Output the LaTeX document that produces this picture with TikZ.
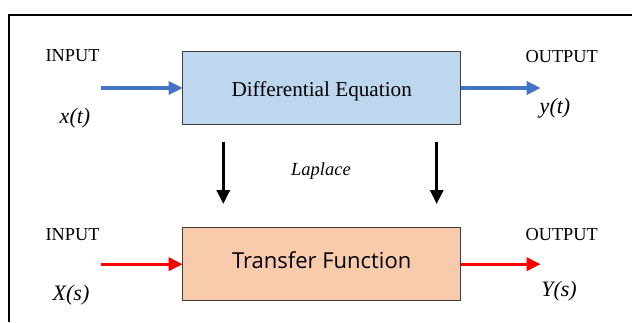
\documentclass[tikz,border=0pt]{standalone}
\usepackage{fontspec}
\setmainfont{Liberation Serif}
\newfontfamily\tffont{Open Sans}
\usetikzlibrary{arrows.meta}
\definecolor{boxblue}{HTML}{BDD7EE}
\definecolor{boxpeach}{HTML}{F8CBAD}
\definecolor{arrblue}{HTML}{4472C4}
\definecolor{arrred}{HTML}{FF0000}
\definecolor{boxedge}{HTML}{404040}
\tikzset{
  lbl/.style={inner sep=0pt, outer sep=0pt, anchor=base, font=\fontsize{18.3}{18}\selectfont},
  sig/.style={inner sep=0pt, outer sep=0pt, anchor=base, font=\fontsize{22}{22}\selectfont\itshape},
  block/.style={draw=boxedge, line width=1pt, inner sep=0pt, outer sep=0pt,
    minimum width=278pt, minimum height=72.6pt, text depth=0pt},
  flow/.style={line width=3.4pt, -{Triangle[length=14pt,width=13pt]}},
}
\begin{document}
\begin{tikzpicture}[x=1pt,y=-1pt]
\useasboundingbox (0,0) rectangle (632,322);
% frame
\draw[line width=2pt] (632,15) -- (9,15) -- (9,322);
% blocks
\node[block, fill=boxblue, text height=16pt, font=\fontsize{21.2}{21}\selectfont] (de) at (321.7,88) {Differential Equation};
\node[block, fill=boxpeach, text height=8.2pt, font=\tffont\fontsize{22}{22}\selectfont] (tf) at (321.7,264.2) {Transfer Function};
% labels
\node[lbl] (in1) at (72.5,61.7) {INPUT};
\node[lbl] (out1) at (561.7,62.7) {OUTPUT};
\node[lbl] (in2) at (72.5,240) {INPUT};
\node[lbl] (out2) at (561.7,240) {OUTPUT};
\node[sig] (xt) at (75,123) {x(t)};
\node[sig] (yt) at (555,113) {y(t)};
\node[sig] (xs) at (71,300) {X(s)};
\node[sig] (ys) at (559,296.7) {Y(s)};
\node[inner sep=0pt, anchor=base, font=\fontsize{18.5}{19}\selectfont\itshape] (lap) at (321,175.7) {Laplace};
% coordinates
\coordinate (a1) at (101,88);
\coordinate (b1) at (540.7,88);
\coordinate (a2) at (101,264.2);
\coordinate (b2) at (540.7,264.2);
\coordinate (l1) at (223.3,141.7);
\coordinate (l2) at (223.3,204);
\coordinate (r1) at (436.7,141.7);
\coordinate (r2) at (436.7,204);
% connectors
\draw[flow, arrblue] (a1) -- (de.west);
\draw[flow, arrblue] (de.east) -- (b1);
\draw[flow, arrred] (a2) -- (tf.west);
\draw[flow, arrred] (tf.east) -- (b2);
\draw[flow, black, line width=3pt] (l1) -- (l2);
\draw[flow, black, line width=3pt] (r1) -- (r2);
\end{tikzpicture}
\end{document}
